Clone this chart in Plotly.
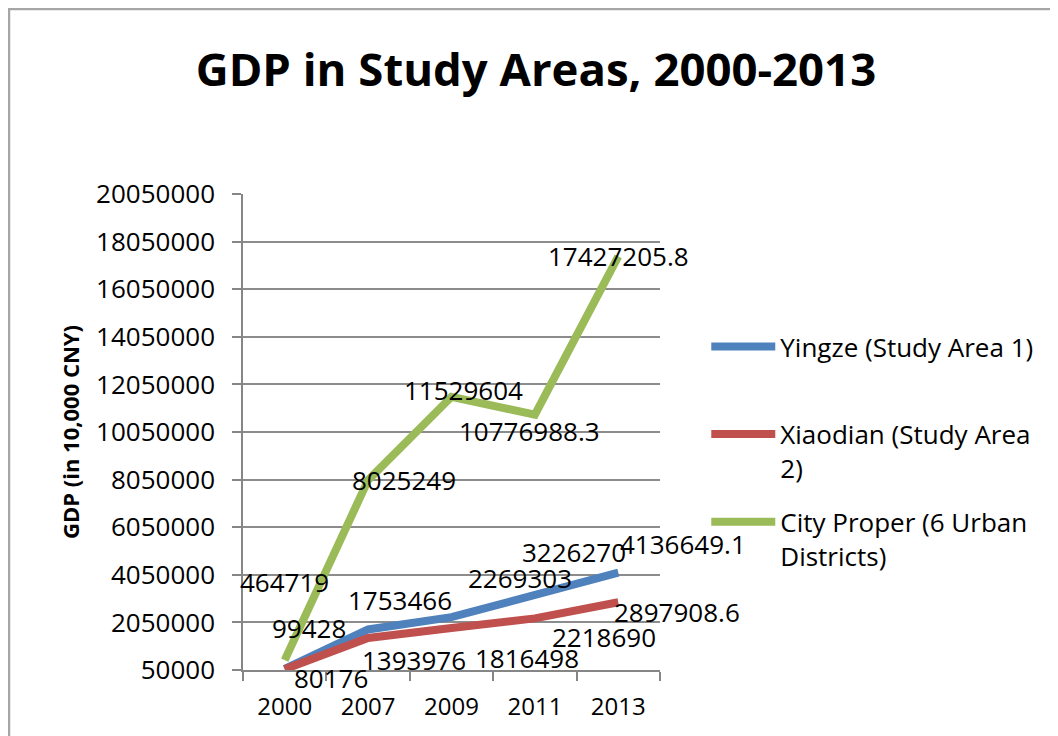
import plotly.graph_objects as go

years = ["2000", "2007", "2009", "2011", "2013"]
yingze = [99428, 1753466, 2269303, 3226270, 4136649.1]
xiaodian = [80176, 1393976, 1816498, 2218690, 2897908.6]
city = [464719, 8025249, 11529604, 10776988.3, 17427205.8]
yingze_labels = ["99428", "1753466", "2269303", "3226270", "4136649.1"]
xiaodian_labels = ["80176", "1393976", "1816498", "2218690", "2897908.6"]
city_labels = ["464719", "8025249", "11529604", "10776988.3", "17427205.8"]
y_ticks = [50000 + 2000000 * i for i in range(11)]

names = ["Yingze (Study Area 1)<br> ", "Xiaodian (Study Area<br>2)", "City Proper (6 Urban<br>Districts)"]
colors = ["#4F81BD", "#C0504D", "#9BBB59"]

# label offsets (pixels) relative to each point
off_y = [(24, 41), (32, 29), (68, 39), (39, 42), (65, 29)]
off_x = [(46, -9), (46, -22), (75, -30), (69, -19), (59, -10)]
off_c = [(0, 78), (36, 0), (12, 7), (-5, -16), (0, 0)]

W, H = 1058, 736
L, T = 235, 186
PW, PH = 417, 476

fig = go.Figure()
series = [(yingze, yingze_labels, off_y), (xiaodian, xiaodian_labels, off_x), (city, city_labels, off_c)]
for i, (vals, labs, offs) in enumerate(series):
    fig.add_trace(go.Scatter(
        x=years, y=vals, mode="lines", name=names[i],
        line=dict(color=colors[i], width=8), legendgroup=str(i),
    ))

annotations = []
for vals, labs, offs in series:
    for idx, (v, t, (dx, dy)) in enumerate(zip(vals, labs, offs)):
        annotations.append(dict(x=idx, y=v, xref="x", yref="y", text=t, showarrow=False,
                                xshift=dx, yshift=dy,
                                font=dict(family="Open Sans", size=26, color="#000")))

fig.update_layout(
    width=W, height=H,
    paper_bgcolor="white", plot_bgcolor="white",
    margin=dict(l=L, r=W - L - PW, t=T, b=H - T - PH),
    title=dict(text="<b>GDP in Study Areas, 2000-2013</b>", x=0.499, xanchor="center",
               y=0.915, yanchor="middle",
               font=dict(family="Open Sans", size=45.5, color="#000")),
    font=dict(family="Open Sans", size=26, color="#000"),
    showlegend=True,
    legend=dict(x=0.660, xanchor="left", y=0.398, yanchor="middle", xref="container", yref="container",
                traceorder="grouped", tracegroupgap=17, valign="top", itemwidth=64,
                font=dict(family="Open Sans", size=26, color="#000"), bgcolor="rgba(0,0,0,0)"),
    annotations=annotations,
    shapes=[dict(type="rect", xref="paper", yref="paper", x0=(1 - L) / PW, x1=(W + 20 - L) / PW,
                 y0=-(H + 20 - T - PH) / PH, y1=(T + PH - 1) / PH, line=dict(color="#A6A6A6", width=2.5),
                 fillcolor="rgba(0,0,0,0)", layer="below")],
)
fig.update_xaxes(type="category", range=[-0.5, 4.5], tickson="boundaries", ticks="outside", ticklen=9,
                 tickwidth=1.5, automargin=False, tickangle=0, ticklabelstandoff=14,
                 tickcolor="#868686", showline=True, linecolor="#868686", linewidth=1.5,
                 showgrid=False, tickfont=dict(family="Open Sans", size=24, color="#000"))
fig.update_yaxes(range=[50000, 20050000], tickvals=y_ticks, ticktext=[str(v) for v in y_ticks],
                 ticks="outside", ticklen=9, tickwidth=1.5, tickcolor="#868686", automargin=False,
                 ticklabelstandoff=12,
                 showline=True, linecolor="#868686", linewidth=1.5,
                 showgrid=True, gridcolor="#8C8C8C", gridwidth=1.5, zeroline=False,
                 title=dict(text="<b>GDP (in 10,000 CNY)</b>", standoff=10,
                            font=dict(family="Open Sans", size=22, color="#000")),
                 tickfont=dict(family="Open Sans", size=26, color="#000"))

fig.write_html("out.html")
